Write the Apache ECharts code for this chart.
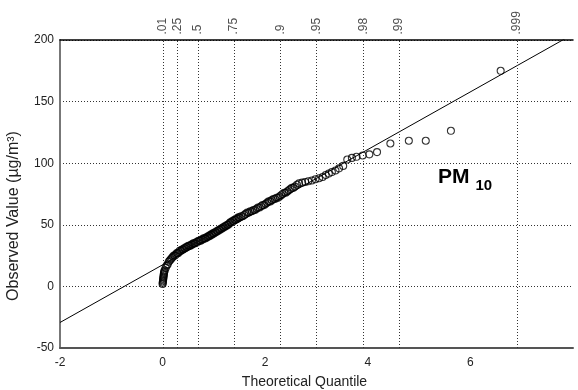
<!DOCTYPE html>
<html>
<head>
<meta charset="utf-8">
<script src="https://cdn.jsdelivr.net/npm/echarts@6/dist/echarts.min.js"></script>
<style>html,body{margin:0;padding:0;background:#fff;}#c{width:578px;height:390px;}</style>
</head>
<body>
<div id="c"></div>
<script>
var quantX = [
  0.000,0.003,0.006,0.009,0.012,0.015,0.018,0.021,0.024,0.028,0.033,
  0.04,0.06,0.08,0.10,0.12,0.14,0.16,0.18,0.20,0.22,0.24,0.26,0.28,0.30,0.32,0.34,0.36,0.38,0.40,
  0.42,0.44,0.46,0.48,0.50,0.52,0.54,0.56,0.58,0.60,0.62,0.64,0.66,0.68,0.70,0.72,0.74,0.76,0.78,0.80,
  0.82,0.84,0.86,0.88,0.90,0.92,0.94,0.96,0.98,1.00,1.02,1.04,1.06,1.08,1.10,1.12,1.14,1.16,1.18,1.20,
  1.22,1.24,1.26,1.28,1.30,1.32,1.34,1.36,1.38,1.40,1.42,1.44,1.46,1.48,1.50,
  1.53,1.56,1.59,1.62,1.65,1.68,1.71,1.74,1.77,1.80,1.83,1.86,1.89,1.92,1.95,1.98,2.01,2.04,2.07,2.10,
  2.13,2.16,2.19,2.22,2.25,2.28,2.31,2.34,2.37,2.40,2.43,2.46,2.49,2.52,2.55,2.58,
  2.62,2.66,2.72,2.78,2.84,2.91,2.98,3.05,3.12,3.18,3.24,3.30,3.37,3.44,3.52,3.60,3.69,3.78,3.90,4.03,4.18,
  4.44,4.80,5.13,5.62,6.59];
var observed = [
  2,3,4,5,6,7,8,9,10,11,12,
  13,15,17,18,20,21,22,23,24,25,25,26,27,27,28,29,29,30,30,
  31,31,32,32,33,33,33,34,34,35,35,35,36,36,37,37,37,38,38,39,
  39,39,40,40,41,41,42,42,43,43,44,44,45,45,46,46,47,47,48,48,
  49,49,50,50,51,52,52,53,53,54,54,55,55,56,56,
  57,57,58,59,60,60,61,61,62,62,63,64,64,65,66,66,67,68,69,69,
  70,71,71,72,72,73,74,75,76,76,77,78,79,80,80,81,
  82.5,83.6,84.2,84.8,85.3,86,87,87.8,88.8,90.4,91.6,92.8,94.1,95.8,97.8,103,104.3,105.2,106.3,107.2,109,
  116,118.2,118.2,126.3,175];
// Reference line end points
var refLine = [[-2,-29.3],[8,204.7]];
// Top axis: cumulative probability labels and their quantile positions
var probLabels = ['.01','.25','.5','.75','.9','.95','.98','.99','.999'];
var probPos = [0.01005,0.2877,0.6931,1.3863,2.3026,2.9957,3.9120,4.6052,6.9078];
// Axis tick values
var xTicks = [-2,0,2,4,6];
var yTicks = [-50,0,50,100,150,200];

var chart = echarts.init(document.getElementById('c'), null, {renderer:'canvas'});
var font = 'Liberation Sans, Arial, sans-serif';
var ptData = quantX.map(function(x,i){return [x, observed[i]];});
var topData = probPos.map(function(q,i){return {value:[q,200], name:probLabels[i]};});

chart.setOption({
  animation:false,
  backgroundColor:'#fff',
  grid:{left:60, right:5, top:40, bottom:42, containLabel:false, outerBoundsMode:'none'},
  xAxis:[{
    type:'value', min:-2, max:8, interval:2,
    axisLine:{show:true, onZero:false, lineStyle:{color:'#555', width:2}},
    axisTick:{show:false},
    splitLine:{show:false},
    axisLabel:{color:'#222', fontFamily:font, fontSize:12, margin:9,
      formatter:function(v){return xTicks.indexOf(v)>=0 ? String(v) : '';}},
    name:'Theoretical Quantile', nameLocation:'middle', nameGap:27,
    nameTextStyle:{color:'#222', fontFamily:font, fontSize:14, padding:[0,24,0,0]}
  },{
    type:'value', min:-2, max:8, position:'top',
    axisLine:{show:true, onZero:false, lineStyle:{color:'#000', width:1.5}},
    axisTick:{show:false}, axisLabel:{show:false}, splitLine:{show:false}
  }],
  yAxis:{
    type:'value', min:-50, max:200, interval:50,
    axisLine:{show:true, onZero:false, lineStyle:{color:'#777', width:2}},
    axisTick:{show:false},
    splitLine:{show:true, lineStyle:{color:'#333', type:[1,2], width:1}},
    axisLabel:{color:'#222', fontFamily:font, fontSize:12, margin:6,
      formatter:function(v){return yTicks.indexOf(v)>=0 ? String(v) : '';}},
    name:'Observed Value (µg/m³)', nameLocation:'middle', nameGap:38,
    nameTextStyle:{color:'#222', fontFamily:font, fontSize:16, padding:[0,44,0,0]}
  },
  series:[{
    type:'line', data:refLine, showSymbol:false, symbol:'none', clip:true,
    lineStyle:{color:'#000', width:1}, silent:true, z:3
  },{
    type:'scatter', data:ptData, symbol:'circle', symbolSize:7,
    itemStyle:{color:'rgba(0,0,0,0)', borderColor:'#000', borderWidth:1.1},
    silent:true, z:4
  },{
    type:'scatter', xAxisIndex:0, data:topData, symbol:'circle', symbolSize:1,
    itemStyle:{color:'rgba(0,0,0,0)'}, silent:true, clip:false,
    label:{show:true, position:'top', distance:5, rotate:90, align:'left', verticalAlign:'middle',
      formatter:function(p){return p.name;}, color:'#222', fontFamily:font, fontSize:12},
    markLine:{silent:true, symbol:['none','none'], label:{show:false},
      lineStyle:{color:'#333', type:[1,2], width:1},
      data:probPos.map(function(q){return {xAxis:q};})},
    z:2
  }],
  graphic:[{
    type:'text', left:438, top:167,
    style:{text:'{a|PM}{b|10}', rich:{
      a:{fontSize:21, fontWeight:'bold', fontFamily:font, fill:'#000', lineHeight:22, verticalAlign:'top'},
      b:{fontSize:15, fontWeight:'bold', fontFamily:font, fill:'#000', lineHeight:26, verticalAlign:'bottom', padding:[0,0,0,6]}
    }}
  }]
});
</script>
</body>
</html>
